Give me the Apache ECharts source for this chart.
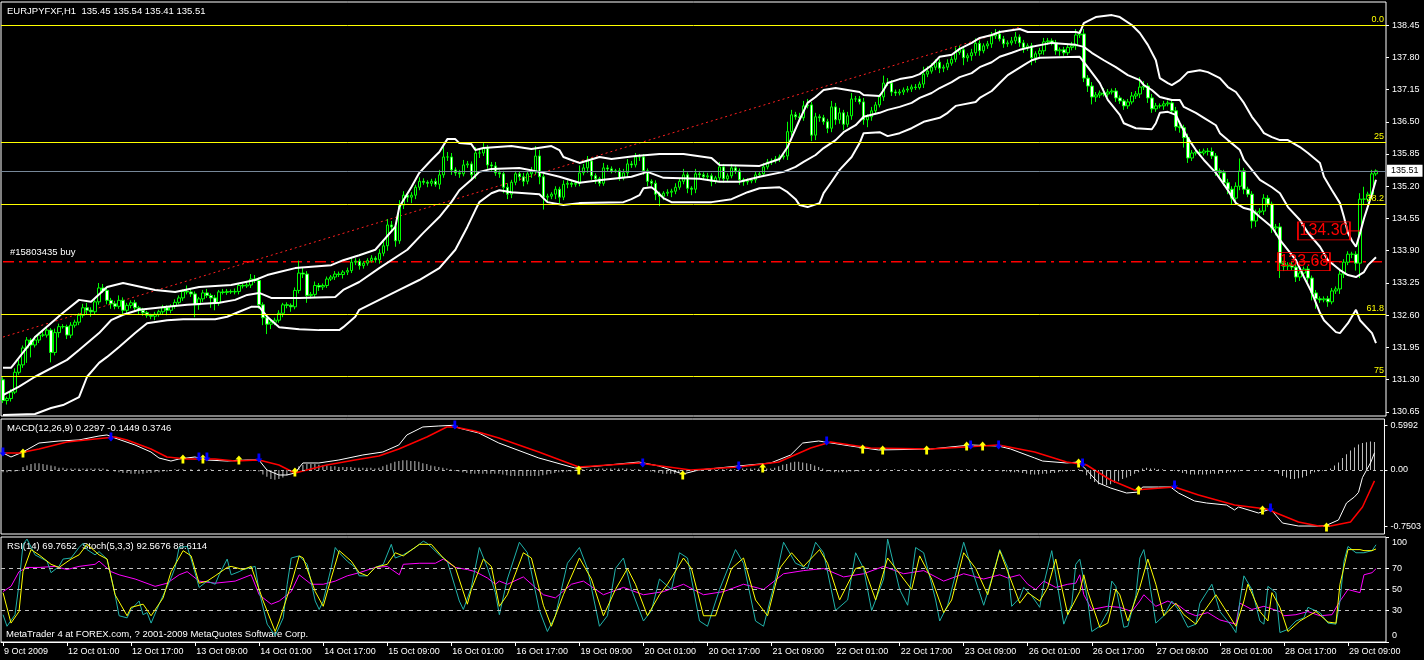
<!DOCTYPE html>
<html><head><meta charset="utf-8">
<script src="https://cdn.jsdelivr.net/npm/echarts@6/dist/echarts.min.js"></script>
<style>html,body{margin:0;padding:0;background:#000;}#c{width:1424px;height:660px;}</style>
</head><body><div id="c"></div>
<script>
// ---------- DATA ----------
const tickLabels = ["9 Oct 2009","12 Oct 01:00","12 Oct 17:00","13 Oct 09:00","14 Oct 01:00","14 Oct 17:00","15 Oct 09:00","16 Oct 01:00","16 Oct 17:00","19 Oct 09:00","20 Oct 01:00","20 Oct 17:00","21 Oct 09:00","22 Oct 01:00","22 Oct 17:00","23 Oct 09:00","26 Oct 01:00","26 Oct 17:00","27 Oct 09:00","28 Oct 01:00","28 Oct 17:00","29 Oct 09:00"];
const priceTicks = [138.45,137.80,137.15,136.50,135.85,135.20,134.55,133.90,133.25,132.60,131.95,131.30,130.65];
const macdTicks = [-0.7503, 0, 0.5992];
const rsiTicks = [0, 30, 50, 70, 100];

const firstOpen = 131.30;
// hourly closes (open of each bar = previous close)
const closes = [
130.88,130.92,131.05,131.45,131.60,131.94,132.10,132.00,132.10,132.20,132.20,132.30,131.85,132.25,132.37,132.37,
132.20,132.40,132.46,132.60,132.75,132.70,132.67,132.87,133.15,133.10,132.90,132.83,132.78,132.90,132.70,132.80,
132.85,132.75,132.70,132.65,132.60,132.58,132.62,132.67,132.75,132.70,132.78,132.86,132.95,133.08,133.07,133.03,
132.81,132.93,133.05,133.00,132.95,132.85,133.07,133.06,133.08,133.07,133.08,133.20,133.19,133.21,133.33,133.30,
132.81,132.55,132.42,132.46,132.50,132.64,132.81,132.80,132.77,133.10,133.45,133.43,133.00,133.02,133.20,133.17,
133.20,133.33,133.37,133.43,133.42,133.47,133.50,133.67,133.69,133.60,133.65,133.70,133.75,133.72,133.85,134.00,
134.42,134.38,134.10,134.82,135.02,134.98,135.02,135.18,135.30,135.28,135.26,135.30,135.24,135.43,135.79,135.79,
135.53,135.47,135.45,135.63,135.65,135.43,135.87,135.87,135.97,135.63,135.61,135.47,135.45,135.18,135.04,135.28,
135.45,135.39,135.30,135.45,135.49,135.81,135.39,134.98,135.00,135.04,135.14,134.98,135.24,135.26,135.24,135.26,
135.47,135.57,135.71,135.41,135.35,135.26,135.57,135.55,135.51,135.51,135.37,135.47,135.65,135.63,135.79,135.79,
135.51,135.30,135.26,135.04,135.00,135.06,135.08,135.10,135.18,135.30,135.43,135.16,135.14,135.45,135.43,135.39,
135.41,135.30,135.37,135.59,135.35,135.41,135.57,135.51,135.33,135.29,135.31,135.33,135.43,135.45,135.59,135.69,
135.71,135.75,135.79,135.81,136.30,136.64,136.60,136.58,136.82,136.84,136.23,136.60,136.58,136.50,136.37,136.80,
136.54,136.68,136.45,136.62,136.96,136.96,136.90,136.54,136.60,136.72,136.84,137.00,137.28,137.28,137.10,137.08,
137.10,137.14,137.16,137.20,137.19,137.26,137.46,137.52,137.60,137.70,137.58,137.60,137.68,137.76,137.90,137.95,
137.79,137.83,137.89,138.08,137.93,138.03,138.07,138.23,138.27,138.17,138.07,138.09,138.13,138.21,138.09,137.99,
138.03,137.79,137.87,137.93,138.11,138.13,138.09,137.93,137.95,137.89,138.00,138.03,138.25,138.27,137.38,137.22,
137.00,137.04,137.08,137.06,137.10,137.12,136.98,136.92,136.82,136.90,137.02,137.06,137.20,137.22,136.98,136.76,
136.82,136.82,136.86,136.88,136.72,136.40,136.38,136.18,135.77,135.87,135.89,135.87,135.91,135.90,135.81,135.51,
135.47,135.27,135.14,134.96,135.20,135.51,135.14,135.04,134.50,134.68,134.70,134.96,134.84,134.36,134.38,133.65,
133.59,133.61,133.57,133.37,133.45,133.53,133.35,133.05,132.93,132.91,132.93,132.87,133.09,133.13,133.43,133.67,
133.83,133.83,133.65,134.94,134.94,135.04,135.45,135.51];
// wick lengths above / below the body, in 0.01 yen
const wickUp = [
5,4,6,8,10,5,6,4,8,5,10,6,4,8,6,5, 4,6,5,4,8,10,6,5,10,8,4,5,6,10,6,5,
5,6,4,5,4,3,5,4,6,5,4,6,5,4,12,6, 5,4,6,8,4,6,4,6,5,4,6,5,4,6,10,8,
6,5,4,4,5,6,4,5,4,6,25,12,6,5,8,5, 4,5,4,6,5,4,6,8,6,5,4,5,6,4,8,10,
12,8,6,10,8,5,6,5,8,6,4,5,6,10,25,10, 8,5,6,10,6,5,12,8,10,6,6,8,5,6,8,5,
6,5,8,6,10,20,12,6,5,4,6,5,8,6,4,5, 15,8,10,6,5,4,10,6,5,4,6,8,10,6,8,6,
6,5,4,6,5,4,6,5,8,6,12,5,4,10,6,5, 6,5,4,10,6,5,8,6,5,4,5,4,6,5,8,6,
5,6,5,8,20,10,6,8,10,12,6,8,5,6,6,12, 8,10,6,8,12,6,6,8,5,8,6,6,15,10,6,5,
6,5,6,5,6,5,15,10,8,6,6,5,8,6,10,8, 6,5,8,10,6,5,6,8,10,8,6,5,8,10,5,6,
5,6,5,6,8,6,5,6,5,6,5,8,12,8,10,6, 8,6,5,10,6,5,6,5,4,6,8,6,20,10,6,8,
6,5,6,5,6,8,5,6,8,6,5,6,5,6,8,6, 5,6,8,6,8,25,6,5,6,5,6,8,6,5,6,8,
5,6,6,6,5,5,6,5,6,5,5,6,6,5,8,6, 6,5,6,12,25,5,8,3];
const wickDn = [
5,8,6,4,5,6,30,25,5,6,4,5,20,6,10,4, 8,6,5,6,5,8,10,5,6,5,8,10,6,5,8,6,
6,5,8,6,5,6,8,5,6,10,6,5,4,6,5,6, 25,10,6,5,20,15,6,4,5,4,5,6,5,4,6,5,
8,15,20,10,6,5,8,6,10,5,6,8,15,6,5,8, 6,5,4,6,5,8,6,5,6,8,6,5,4,6,8,6,
10,8,12,6,8,10,12,8,6,5,8,6,5,10,6,8, 10,6,8,5,6,12,8,10,6,8,10,6,8,12,10,8,
6,8,10,6,8,5,15,25,8,6,10,12,6,8,6,5, 6,5,10,8,10,6,5,6,5,4,6,5,8,6,5,8,
8,10,6,12,20,8,6,10,6,5,6,10,12,8,6,5, 6,10,5,6,8,6,5,6,10,8,6,5,6,5,6,5,
6,5,6,5,8,10,6,5,6,5,12,10,8,6,10,8, 10,8,12,6,8,6,5,10,15,8,6,5,8,6,8,6,
5,6,5,6,5,4,8,6,5,6,10,8,6,5,6,5, 15,8,10,6,10,5,6,8,6,5,8,6,5,6,8,10,
6,15,10,6,8,6,5,8,10,6,5,6,8,6,8,12, 15,10,6,5,6,5,8,6,8,6,5,6,8,6,10,8,
6,5,8,5,6,8,10,20,10,6,5,6,5,8,6,10, 8,6,10,12,6,8,10,6,15,12,5,8,6,10,15,30,
10,8,6,10,8,6,8,15,20,6,5,10,5,6,10,8, 6,8,15,30,12,6,10,4];

// band lines: [bar index, price]
const bandUpper = [[0,131.54],[2,131.54],[8,132.16],[15,132.65],[19,132.91],[22,132.87],[26,133.17],[30,133.25],[38,133.11],[43,133.07],[49,133.17],[57,133.21],[63,133.31],[66,133.41],[69,133.47],[73,133.55],[82,133.61],[85,133.71],[89,133.81],[93,133.92],[98,134.38],[99,134.78],[102,135.18],[104,135.47],[107,135.73],[109,135.89],[111,136.15],[113,136.15],[114,136.07],[117,136.05],[118,135.93],[120,135.97],[127,136.01],[132,135.95],[137,136.01],[139,135.93],[140,135.79],[142,135.73],[144,135.67],[149,135.79],[152,135.75],[158,135.81],[164,135.85],[170,135.85],[177,135.77],[179,135.63],[189,135.61],[194,135.75],[196,135.99],[199,136.54],[201,136.88],[203,137.00],[205,137.14],[208,137.18],[214,137.10],[215,137.04],[219,137.02],[220,137.14],[221,137.28],[224,137.36],[227,137.40],[229,137.46],[232,137.64],[234,137.81],[237,137.85],[239,137.97],[242,138.09],[244,138.19],[247,138.25],[249,138.31],[254,138.37],[256,138.31],[268,138.31],[269,138.29],[270,138.49],[273,138.61],[277,138.65],[279,138.61],[282,138.45],[284,138.29],[286,138.05],[288,137.74],[289,137.38],[291,137.28],[292,137.24],[294,137.34],[296,137.50],[299,137.54],[301,137.50],[304,137.38],[306,137.20],[308,137.10],[310,136.88],[312,136.60],[314,136.39],[315,136.27],[317,136.19],[319,136.13],[321,136.13],[324,135.99],[326,135.87],[329,135.67],[330,135.39],[332,135.12],[334,134.86],[335,134.58],[336,134.26],[337,134.10],[338,133.98],[339,134.25],[340,134.55],[341,134.80],[342,135.05],[343,135.33]];
const bandMiddle = [[0,130.99],[4,131.16],[8,131.36],[16,131.70],[19,131.90],[24,132.24],[27,132.50],[30,132.61],[34,132.71],[41,132.77],[46,132.81],[54,132.85],[58,132.91],[61,133.01],[64,133.05],[67,132.95],[74,132.95],[83,132.97],[85,133.11],[89,133.27],[94,133.55],[101,133.92],[105,134.26],[109,134.58],[112,134.88],[114,135.12],[117,135.33],[119,135.49],[122,135.55],[129,135.57],[134,135.49],[139,135.39],[144,135.27],[150,135.33],[157,135.39],[161,135.49],[165,135.37],[174,135.35],[179,135.29],[184,135.29],[189,135.39],[195,135.49],[198,135.59],[200,135.69],[203,135.83],[205,135.97],[208,136.13],[210,136.29],[213,136.43],[215,136.60],[219,136.68],[221,136.74],[224,136.80],[227,136.88],[229,136.98],[232,137.08],[234,137.18],[237,137.30],[239,137.40],[242,137.48],[244,137.60],[247,137.70],[249,137.81],[252,137.89],[254,137.95],[257,138.01],[262,138.09],[268,138.05],[270,138.01],[272,137.89],[275,137.74],[278,137.60],[281,137.44],[284,137.34],[285,137.24],[287,137.14],[289,137.00],[292,136.94],[294,136.94],[295,136.80],[298,136.68],[300,136.58],[303,136.43],[304,136.27],[306,136.13],[309,135.93],[310,135.73],[312,135.53],[314,135.33],[317,135.18],[319,135.06],[321,134.78],[324,134.52],[326,134.26],[329,133.98],[331,133.71],[334,133.51],[336,133.41],[338,133.37],[340,133.47],[341,133.61],[343,133.77]];
const bandLower = [[0,130.59],[8,130.61],[12,130.73],[15,130.79],[19,130.95],[21,131.36],[24,131.64],[26,131.76],[29,131.96],[33,132.24],[36,132.44],[41,132.50],[45,132.52],[53,132.52],[56,132.57],[59,132.67],[62,132.77],[64,132.77],[66,132.57],[69,132.36],[74,132.32],[79,132.30],[84,132.30],[85,132.36],[88,132.57],[89,132.71],[94,132.91],[99,133.11],[104,133.31],[109,133.55],[113,133.92],[116,134.38],[118,134.72],[119,134.88],[122,135.06],[124,135.12],[127,135.08],[134,135.04],[136,134.88],[140,134.82],[144,134.86],[155,134.88],[157,134.94],[159,135.02],[160,135.16],[162,135.18],[163,135.12],[165,134.96],[167,134.88],[177,134.88],[182,134.94],[186,135.08],[189,135.16],[194,135.18],[196,135.08],[198,134.94],[199,134.82],[201,134.78],[204,134.86],[205,135.06],[207,135.29],[209,135.53],[212,135.79],[214,136.07],[215,136.27],[219,136.29],[221,136.21],[224,136.27],[227,136.37],[230,136.50],[234,136.58],[236,136.68],[238,136.82],[243,136.90],[244,136.98],[247,137.12],[249,137.28],[251,137.44],[253,137.54],[255,137.64],[257,137.74],[259,137.79],[269,137.81],[271,137.60],[274,137.28],[276,136.94],[279,136.64],[280,136.47],[283,136.37],[287,136.35],[288,136.47],[289,136.68],[291,136.70],[293,136.64],[294,136.47],[296,136.17],[298,135.93],[300,135.73],[303,135.47],[306,135.12],[308,134.86],[310,134.76],[312,134.72],[314,134.58],[317,134.38],[319,134.12],[323,133.71],[325,133.37],[327,133.05],[329,132.65],[330,132.50],[333,132.26],[334,132.24],[336,132.44],[338,132.71],[339,132.50],[342,132.24],[343,132.04]];

const trendLine = [[0,132.16],[254,138.41]];
const fibNames = ["0.0","25","38.2","61.8","75"];
const fibPrices = [138.45,136.09,134.84,132.62,131.37];
const bidPrice = 135.51;
const orderPrice = 133.68;
const orderText = "#15803435 buy";
const tradeBoxes = [[330,134.30],[325,133.68]];
const tradeLinks = [[[336,134.30],[339,134.30]],[[331,133.68],[334,133.68]]];

// MACD panel
const macdHist = [
-0.03,-0.03,-0.02,-0.02,-0.01,0.04,0.06,0.08,0.09,0.09,0.08,0.07,0.06,0.05,0.03,0.03,
0.02,0.02,0.02,0.02,0.02,0.02,0.02,0.02,0.02,0.02,0.01,0.0,-0.02,-0.03,-0.04,-0.04,
-0.05,-0.05,-0.05,-0.05,-0.04,-0.04,-0.03,-0.03,-0.02,-0.02,-0.01,0.01,0.01,0.01,0.0,0.01,
0.0,0.01,0.0,0.01,0.01,0.0,0.0,0.01,0.0,0.0,0.01,0.0,0.0,0.0,-0.01,-0.01,
-0.02,-0.06,-0.09,-0.12,-0.13,-0.12,-0.10,-0.07,-0.03,0.02,0.05,0.07,0.08,0.08,0.08,0.07,
0.06,0.06,0.05,0.05,0.04,0.04,0.04,0.04,0.03,0.03,0.03,0.03,0.03,0.02,0.03,0.05,
0.07,0.09,0.11,0.12,0.13,0.13,0.12,0.12,0.11,0.09,0.08,0.06,0.05,0.04,0.03,0.02,
0.01,-0.01,-0.02,-0.03,-0.04,-0.05,-0.05,-0.05,-0.05,-0.05,-0.05,-0.05,-0.05,-0.06,-0.07,-0.08,
-0.08,-0.08,-0.08,-0.08,-0.08,-0.08,-0.08,-0.07,-0.06,-0.05,-0.04,-0.03,-0.03,-0.02,-0.02,-0.01,
0.0,0.01,0.01,0.01,0.02,0.02,0.02,0.02,0.02,0.02,0.02,0.02,0.02,0.01,0.01,0.01,
0.0,-0.01,-0.02,-0.03,-0.04,-0.05,-0.05,-0.05,-0.05,-0.04,-0.03,-0.02,-0.01,0.0,0.0,0.01,
0.01,0.01,0.01,0.01,0.01,0.01,0.01,0.01,0.02,0.02,0.02,0.02,0.02,0.02,0.02,0.02,
0.02,0.03,0.05,0.07,0.08,0.10,0.11,0.11,0.10,0.09,0.08,0.06,0.04,0.02,-0.02,-0.02,
-0.03,-0.03,-0.03,-0.03,-0.02,-0.02,-0.02,-0.01,0.0,0.01,0.0,0.01,0.0,0.01,0.0,0.01,
0.0,0.01,0.0,0.01,0.0,0.01,0.0,0.01,0.0,0.01,0.0,0.01,0.0,0.01,0.0,0.01,
0.0,0.01,0.0,0.01,0.0,0.01,0.0,0.0,0.0,-0.01,-0.02,-0.02,-0.03,-0.03,-0.03,-0.04,
-0.05,-0.06,-0.06,-0.06,-0.05,-0.05,-0.04,-0.04,-0.03,-0.02,-0.02,-0.01,0.0,0.01,-0.02,-0.07,
-0.12,-0.16,-0.19,-0.20,-0.20,-0.19,-0.17,-0.15,-0.12,-0.10,-0.08,-0.05,-0.03,0.02,0.03,0.02,
0.02,0.01,0.01,0.0,0.0,-0.01,-0.02,-0.04,-0.05,-0.06,-0.06,-0.06,-0.06,-0.06,-0.05,-0.05,
-0.05,-0.04,-0.04,-0.03,-0.03,-0.02,-0.01,-0.01,0.0,0.0,-0.01,0.0,0.0,-0.01,-0.02,-0.05,
-0.08,-0.10,-0.12,-0.12,-0.11,-0.10,-0.08,-0.05,-0.03,-0.02,-0.01,0.0,0.02,0.06,0.10,0.16,
0.21,0.26,0.30,0.34,0.36,0.37,0.38,0.3746];
const macdMain = [[0,0.228],[2,0.174],[5,0.241],[9,0.361],[14,0.388],[19,0.402],[24,0.455],[26,0.469],[28,0.428],[33,0.335],[37,0.241],[39,0.161],[42,0.120],[44,0.147],[48,0.174],[51,0.134],[56,0.120],[61,0.134],[64,0.134],[66,0.0],[69,-0.067],[71,-0.067],[73,-0.040],[75,0.094],[79,0.094],[84,0.134],[90,0.201],[95,0.241],[99,0.335],[101,0.469],[105,0.576],[109,0.589],[113,0.5992],[114,0.562],[119,0.495],[124,0.361],[134,0.161],[143,0.027],[149,0.054],[159,0.107],[164,0.054],[170,-0.054],[174,0],[184,0.054],[192,0.094],[197,0.201],[200,0.361],[204,0.388],[212,0.321],[219,0.268],[232,0.281],[242,0.335],[249,0.321],[252,0.281],[258,0.161],[260,0.120],[266,0.094],[269,0.107],[271,0],[274,-0.174],[277,-0.241],[281,-0.308],[284,-0.295],[285,-0.228],[289,-0.228],[292,-0.228],[294,-0.308],[298,-0.415],[301,-0.442],[306,-0.469],[308,-0.535],[309,-0.495],[314,-0.576],[317,-0.522],[320,-0.710],[324,-0.75],[329,-0.7503],[331,-0.74],[334,-0.669],[336,-0.442],[338,-0.36],[339,-0.30],[340,-0.10],[342,0.094],[343,0.2297]];
const macdSignal = [[0,0.228],[4,0.228],[9,0.281],[16,0.375],[23,0.415],[28,0.442],[31,0.402],[37,0.281],[41,0.174],[46,0.147],[53,0.147],[58,0.120],[64,0.134],[69,0.067],[73,-0.040],[76,0],[81,0.067],[88,0.134],[94,0.187],[99,0.281],[106,0.442],[111,0.576],[113,0.576],[118,0.522],[124,0.428],[134,0.241],[144,0.040],[159,0.094],[172,0],[184,0.040],[194,0.107],[202,0.295],[207,0.375],[217,0.295],[232,0.281],[249,0.335],[258,0.241],[266,0.107],[271,0.067],[277,-0.134],[283,-0.268],[293,-0.228],[299,-0.335],[308,-0.469],[316,-0.522],[324,-0.696],[329,-0.75],[332,-0.75],[337,-0.696],[340,-0.495],[343,-0.1449]];
const macdUpArrows = [[5,0.228],[45,0.147],[50,0.147],[59,0.134],[73,-0.027],[144,0],[170,-0.067],[190,0.027],[215,0.281],[220,0.268],[231,0.268],[241,0.321],[245,0.321],[269,0.094],[284,-0.268],[315,-0.535],[331,-0.763]];
const macdDownArrows = [[0,0.241],[27,0.442],[49,0.174],[51,0.174],[64,0.161],[113,0.602],[160,0.094],[184,0.054],[206,0.388],[242,0.335],[249,0.335],[270,0.094],[293,-0.201],[317,-0.509]];

// RSI / Stochastic panel
const stochMain = [[0,26],[1,15],[3,26],[4,55],[5,93],[6,98],[8,83],[11,77],[12,66],[14,72],[15,79],[17,80],[19,90],[20,94],[21,88],[23,83],[24,86],[26,79],[28,45],[29,25],[31,23],[32,31],[34,39],[35,26],[36,28],[37,18],[39,36],[42,61],[43,71],[44,90],[46,91],[47,79],[49,52],[51,58],[53,55],[54,64],[56,79],[57,64],[59,67],[60,69],[63,72],[64,48],[66,17],[68,6],[70,23],[71,55],[72,80],[74,82],[76,74],[78,39],[79,31],[80,39],[82,71],[83,90],[84,85],[86,77],[88,71],[89,63],[91,63],[93,71],[95,74],[97,93],[98,80],[100,83],[103,90],[105,96],[106,94],[109,83],[111,77],[114,39],[115,31],[117,52],[119,90],[121,71],[123,47],[124,26],
[126,60],[129,95],[131,85],[134,30],[136,10],[138,25],[141,75],[144,90],[146,70],[149,15],[151,25],[153,70],[155,80],[157,50],[160,20],[162,30],[164,60],[167,50],[169,85],[171,80],[174,20],[176,15],[179,50],[183,88],[185,75],[188,20],[190,15],[193,60],[195,95],[198,75],[201,70],[203,95],[205,85],[208,30],[211,40],[213,85],[215,70],[217,30],[220,60],[221,98],[224,50],[226,35],[228,90],[230,85],[233,40],[234,20],[236,35],[239,80],[240,95],[242,70],[245,35],[247,60],
[249,88],[251,71],[252,34],[254,42],[255,52],[257,44],[259,33],[260,55],[262,87],[263,64],[265,17],[267,36],[268,74],[269,79],[271,39],[272,10],[274,15],[276,29],[277,58],[278,53],[280,14],[281,15],[283,44],[284,80],[285,88],[286,67],[288,18],[290,25],[292,39],[294,29],[296,14],[298,17],[299,37],[302,55],[304,29],[307,15],[308,9],[309,39],[310,63],[312,50],[314,20],[315,17],[316,53],[318,47],[319,9],[321,12],[323,20],[325,23],[326,33],[329,28],[331,18],[333,17],[334,39],[335,77],[336,91],[338,85],[340,85],[342,87],[343,92.57]];
const stochSignal = [[0,47],[2,18],[4,29],[5,67],[7,88],[9,83],[12,74],[14,71],[17,79],[19,83],[21,93],[24,83],[26,79],[28,45],[31,25],[32,33],[35,36],[37,25],[40,42],[42,67],[45,87],[47,82],[49,56],[51,58],[53,63],[56,71],[57,72],[60,69],[62,72],[65,39],[68,10],[69,20],[72,55],[74,82],[75,80],[78,48],[80,34],[82,61],[84,87],[87,77],[89,66],[91,63],[93,71],[96,74],[98,85],[100,82],[104,93],[107,93],[110,80],[113,71],[116,36],[117,50],[120,79],[122,72],[124,34],
[126,45],[130,85],[132,80],[135,35],[137,15],[140,45],[144,80],[147,60],[150,25],[153,50],[156,70],[158,55],[161,25],[164,45],[166,55],[170,80],[172,70],[175,25],[178,25],[182,70],[185,80],[188,40],[191,25],[194,70],[197,85],[200,72],[204,88],[206,75],[209,40],[213,70],[215,72],[218,40],[221,80],[224,65],[227,50],[229,82],[232,60],[235,28],[237,40],[240,85],[243,70],[246,45],
[249,87],[251,67],[254,37],[256,47],[259,39],[261,52],[263,79],[264,61],[266,26],[269,48],[270,64],[271,48],[274,14],[276,18],[278,50],[279,45],[281,20],[284,52],[286,79],[288,55],[290,25],[293,37],[295,26],[298,17],[300,29],[303,45],[305,33],[308,15],[310,39],[311,55],[314,29],[316,20],[317,47],[319,33],[321,10],[324,20],[328,29],[331,19],[333,18],[334,55],[336,88],[339,88],[340,87],[342,87],[343,88.61]];
const rsi = [[0,48],[2,53],[4,67],[6,71],[9,71],[13,72],[16,69],[19,72],[23,74],[24,77],[27,67],[29,64],[33,60],[38,53],[41,56],[44,64],[46,67],[49,58],[53,56],[58,58],[62,64],[64,45],[67,36],[69,39],[72,48],[74,64],[77,55],[80,55],[83,58],[86,63],[89,66],[93,71],[96,72],[99,64],[100,74],[104,75],[108,75],[110,79],[113,71],[116,69],[118,67],[121,61],[123,55],[124,58],
[126,55],[130,62],[135,45],[138,42],[142,55],[145,58],[150,45],[155,52],[160,45],[165,48],[170,55],[175,45],[180,48],[185,55],[190,50],[195,65],[200,68],[205,70],[210,62],[215,65],[220,72],[225,65],[230,68],[235,58],[240,65],[245,60],
[249,64],[251,61],[254,64],[256,55],[258,50],[260,58],[263,52],[266,55],[268,56],[269,64],[270,45],[272,31],[276,34],[279,33],[282,29],[284,39],[285,45],[288,34],[291,39],[294,34],[296,28],[298,25],[301,28],[304,21],[308,17],[309,37],[312,31],[315,34],[319,29],[320,25],[323,26],[326,29],[329,25],[332,26],[334,39],[336,50],[339,47],[340,64],[342,66],[343,69.77]];
const rsiLevels = [30, 50, 70];

// ---------- BUILD ----------
const FONT = '"Liberation Sans", Arial, sans-serif';
const NCAT = 346;
const cats = [];
for (let i = 0; i < NCAT; i++) cats.push(String(i));
const candles = closes.map((c, i) => {
  const o = i === 0 ? firstOpen : closes[i - 1];
  const hi = Math.max(o, c) + wickUp[i] / 100;
  const lo = Math.min(o, c) - wickDn[i] / 100;
  return [o, c, +lo.toFixed(2), +hi.toFixed(2)];
});
const histData = macdHist.map((v, i) => [i, v]);
const orderLine = [[0, orderPrice], [NCAT - 1, orderPrice]];

const ARROW = 'path://M4,0 L8,4.5 L5.6,4.5 L5.6,10 L2.4,10 L2.4,4.5 L0,4.5 Z';
const gridCommon = { left: 1, right: 38, show: true, borderColor: '#ffffff', borderWidth: 1, backgroundColor: '#000' };
const hiddenX = (g) => ({ type: 'category', gridIndex: g, data: cats, show: false, boundaryGap: true });

const fibMarks = fibPrices.map((p, k) => ({
  yAxis: p, name: fibNames[k],
  lineStyle: { color: '#ffff00', type: 'solid', width: 1 },
  label: { show: true, position: 'insideEndTop', formatter: fibNames[k], color: '#ffff00', fontSize: 9, fontFamily: FONT, distance: [2, 1] }
}));

const option = {
  backgroundColor: '#000',
  animation: false,
  grid: [
    Object.assign({ top: 2, height: 414 }, gridCommon),
    Object.assign({ top: 419, height: 115 }, gridCommon),
    Object.assign({ top: 537, height: 105 }, gridCommon)
  ],
  xAxis: [hiddenX(0), hiddenX(1), {
    type: 'category', gridIndex: 2, data: cats, boundaryGap: true, position: 'bottom',
    axisLine: { show: true, lineStyle: { color: '#fff' } },
    axisTick: { show: true, alignWithLabel: true, length: 4, lineStyle: { color: '#fff' }, interval: (i) => i % 16 === 0 && i / 16 < tickLabels.length },
    axisLabel: { color: '#fff', fontSize: 9, fontFamily: FONT, align: 'left', margin: 5, padding: [0, 0, 0, 1],
      interval: (i) => i % 16 === 0 && i / 16 < tickLabels.length,
      formatter: (v, i) => (i % 16 === 0 && tickLabels[i / 16]) ? tickLabels[i / 16] : '' },
    splitLine: { show: false }
  }],
  yAxis: [
    { type: 'value', gridIndex: 0, position: 'right', min: 130.569, max: 138.914, splitLine: { show: false },
      axisLine: { show: false },
      axisTick: { show: true, length: 3, lineStyle: { color: '#fff' }, customValues: priceTicks },
      axisLabel: { color: '#fff', fontSize: 9, fontFamily: FONT, margin: 6, customValues: priceTicks, formatter: (v) => v.toFixed(2) } },
    { type: 'value', gridIndex: 1, position: 'right', min: -0.8568, max: 0.6827, splitLine: { show: false },
      axisLine: { show: false },
      axisTick: { show: true, length: 3, lineStyle: { color: '#fff' }, customValues: macdTicks },
      axisLabel: { color: '#fff', fontSize: 9, fontFamily: FONT, margin: 6, customValues: macdTicks, formatter: (v) => v === 0 ? '0.00' : v.toFixed(4) } },
    { type: 'value', gridIndex: 2, position: 'right', min: 0, max: 100, splitLine: { show: false },
      axisLine: { show: false },
      axisTick: { show: true, length: 3, lineStyle: { color: '#fff' }, customValues: rsiTicks },
      axisLabel: { color: '#fff', fontSize: 9, fontFamily: FONT, margin: 6, customValues: rsiTicks,
        formatter: (v) => v === 100 ? '{a|100}' : (v === 0 ? '{b|0}' : String(v)),
        rich: { a: { padding: [12, 0, 0, 0], color: '#fff', fontSize: 9, fontFamily: FONT }, b: { padding: [0, 0, 12, 0], color: '#fff', fontSize: 9, fontFamily: FONT } } } }
  ],
  graphic: [
    { type: 'text', left: 7, top: 6, style: { text: 'EURJPYFXF,H1  135.45 135.54 135.41 135.51', fill: '#fff', fontSize: 9.5, fontFamily: FONT } },
    { type: 'text', left: 7, top: 423, style: { text: 'MACD(12,26,9) 0.2297 -0.1449 0.3746', fill: '#fff', fontSize: 9.5, fontFamily: FONT } },
    { type: 'text', left: 7, top: 541, style: { text: 'RSI(14) 69.7652  Stoch(5,3,3) 92.5676 88.6114', fill: '#fff', fontSize: 9.5, fontFamily: FONT } },
    { type: 'text', left: 6, top: 629, style: { text: 'MetaTrader 4 at FOREX.com, ? 2001-2009 MetaQuotes Software Corp.', fill: '#fff', fontSize: 9.5, fontFamily: FONT } }
  ],
  series: [
    // horizontal levels + trend line
    { type: 'line', xAxisIndex: 0, yAxisIndex: 0, data: trendLine, symbol: 'none', silent: true,
      lineStyle: { color: '#ff2020', width: 1, type: [2, 3] }, z: 1,
      markLine: { symbol: ['none', 'none'], silent: true, animation: false,
        data: fibMarks.concat([
          { yAxis: bidPrice, lineStyle: { color: '#778899', type: 'solid', width: 1 },
            label: { show: true, position: 'end', formatter: bidPrice.toFixed(2), color: '#000', backgroundColor: '#fff', padding: [2, 4, 1, 4], fontSize: 9, fontFamily: FONT, distance: 1 } }
        ]) } },
    { type: 'line', xAxisIndex: 0, yAxisIndex: 0, data: orderLine, symbol: 'none', silent: true, z: 2,
      lineStyle: { color: '#ff0000', width: 1.5, type: [11, 5, 3, 5] },
      endLabel: { show: false },
      markPoint: { symbol: 'circle', symbolSize: 0, silent: true,
        data: [{ coord: [0, orderPrice], label: { show: true, position: 'right', formatter: orderText, color: '#fff', fontSize: 9.5, fontFamily: FONT, offset: [2, -9] } }] } },
    { type: 'candlestick', xAxisIndex: 0, yAxisIndex: 0, data: candles, barWidth: 3, z: 3,
      itemStyle: { color: '#000000', color0: '#ffffff', borderColor: '#00ff00', borderColor0: '#00ff00', borderWidth: 1 } },
    { type: 'line', xAxisIndex: 0, yAxisIndex: 0, data: bandUpper, symbol: 'none', lineStyle: { color: '#fff', width: 2 }, z: 4 },
    { type: 'line', xAxisIndex: 0, yAxisIndex: 0, data: bandMiddle, symbol: 'none', lineStyle: { color: '#fff', width: 2 }, z: 4 },
    { type: 'line', xAxisIndex: 0, yAxisIndex: 0, data: bandLower, symbol: 'none', lineStyle: { color: '#fff', width: 2 }, z: 4 },
    { type: 'line', xAxisIndex: 0, yAxisIndex: 0, data: tradeLinks[0], symbol: 'none', lineStyle: { color: '#ff0000', width: 1 }, z: 5 },
    { type: 'line', xAxisIndex: 0, yAxisIndex: 0, data: tradeLinks[1], symbol: 'none', lineStyle: { color: '#ff0000', width: 1 }, z: 5 },
    { type: 'scatter', xAxisIndex: 0, yAxisIndex: 0, data: tradeBoxes, symbol: 'rect', symbolSize: [52, 18], z: 6,
      itemStyle: { color: 'rgba(0,0,0,0)', borderColor: '#ff0000', borderWidth: 1, opacity: 1 },
      label: { show: true, position: 'inside', formatter: (p) => p.value[1].toFixed(2), color: '#ff0000', fontSize: 16, fontFamily: FONT, opacity: 1 } },
    // MACD
    { type: 'bar', xAxisIndex: 1, yAxisIndex: 1, data: histData, barWidth: 1, itemStyle: { color: '#c0c0c0' }, z: 2,
      markLine: { symbol: ['none', 'none'], silent: true, label: { show: false },
        data: [{ yAxis: 0, lineStyle: { color: '#c0c0c0', type: [3, 4], width: 1 } }] } },
    { type: 'line', xAxisIndex: 1, yAxisIndex: 1, data: macdMain, symbol: 'none', lineStyle: { color: '#ffffff', width: 1 }, z: 3 },
    { type: 'line', xAxisIndex: 1, yAxisIndex: 1, data: macdSignal, symbol: 'none', lineStyle: { color: '#ff0000', width: 1.5 }, z: 3 },
    { type: 'scatter', xAxisIndex: 1, yAxisIndex: 1, data: macdUpArrows, symbol: ARROW, symbolSize: [7, 9], itemStyle: { color: '#ffff00', opacity: 1 }, z: 5 },
    { type: 'scatter', xAxisIndex: 1, yAxisIndex: 1, data: macdDownArrows, symbol: ARROW, symbolRotate: 180, symbolSize: [7, 9], itemStyle: { color: '#0000ff', opacity: 1 }, z: 5 },
    // RSI / Stoch
    { type: 'line', xAxisIndex: 2, yAxisIndex: 2, data: rsi, symbol: 'none', lineStyle: { color: '#ff00ff', width: 1 }, z: 3,
      markLine: { symbol: ['none', 'none'], silent: true, label: { show: false },
        data: rsiLevels.map(v => ({ yAxis: v, lineStyle: { color: '#c0c0c0', type: [4, 4], width: 1 } })) } },
    { type: 'line', xAxisIndex: 2, yAxisIndex: 2, data: stochMain, symbol: 'none', lineStyle: { color: '#20b2aa', width: 1 }, z: 4 },
    { type: 'line', xAxisIndex: 2, yAxisIndex: 2, data: stochSignal, symbol: 'none', lineStyle: { color: '#ffff00', width: 1 }, z: 5 }
  ]
};
const chart = echarts.init(document.getElementById('c'));
chart.setOption(option);
</script>
</body></html>
